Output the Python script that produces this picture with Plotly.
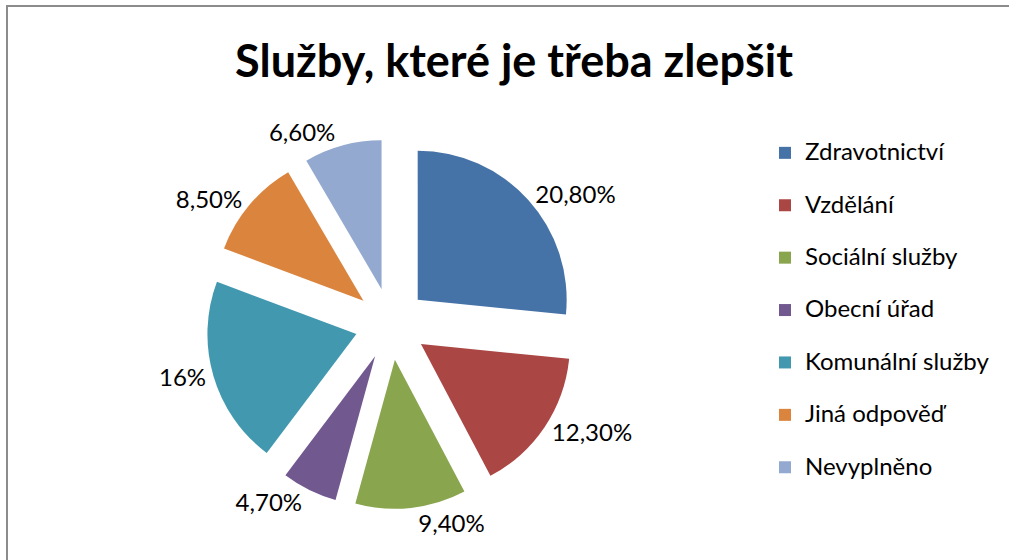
import plotly.graph_objects as go

# ---- data ----
categories = ["Zdravotnictví", "Vzdělání", "Sociální služby", "Obecní úřad",
              "Komunální služby", "Jiná odpověď", "Nevyplněno"]
values = [20.80, 12.30, 9.40, 4.70, 16, 8.50, 6.60]
colors = ["#4572A7", "#AA4643", "#89A54E", "#71588F", "#4198AF", "#DB843D", "#93A9CF"]
title_text = "Služby, které je třeba zlepšit"


def fmt(v):
    if float(v).is_integer():
        return f"{int(v)}%"
    return f"{v:.2f}".replace(".", ",") + "%"


label_texts = [fmt(v) for v in values]
# legend entries: larger text plus an extra blank line for the wide legend spacing
legend_labels = ["<span style='font-size:24px'>" + c + "</span><br>\u00a0" for c in categories]

W, H = 1009, 560
FONT = "Lato"

fig = go.Figure(go.Pie(
    labels=legend_labels,
    values=values,
    text=label_texts,
    customdata=categories,
    textinfo="text",
    textposition="outside",
    texttemplate="%{text}",
    hovertemplate="%{customdata}: %{text}<extra></extra>",
    sort=False,
    direction="clockwise",
    rotation=0,
    pull=[0.242] * len(values),
    marker=dict(colors=colors, line=dict(width=0)),
    outsidetextfont=dict(family=FONT, size=24, color="#000000"),
    domain=dict(x=[206 / W, 576 / W], y=[1 - 509 / H, 1 - 139 / H]),
    showlegend=True,
))

fig.update_layout(
    width=W, height=H,
    margin=dict(l=0, r=0, t=0, b=0, pad=0, autoexpand=False),
    paper_bgcolor="white",
    plot_bgcolor="white",
    font=dict(family=FONT, color="#000000"),
    title=dict(text="<b>" + title_text + "</b>", x=514 / W, xanchor="center",
               xref="container", yref="container", y=1 - 61 / H, yanchor="middle",
               font=dict(family=FONT, size=45, color="#000000")),
    legend=dict(x=765 / W, xanchor="left", y=1 - 134 / H, yanchor="top",
                font=dict(family=FONT, size=19, color="#000000"),
                valign="top", bgcolor="rgba(0,0,0,0)", itemclick=False),
    shapes=[
        dict(type="line", xref="paper", yref="paper", x0=6 / W, x1=1.0,
             y0=1 - 6 / H, y1=1 - 6 / H, line=dict(color="#8c8c8c", width=2)),
        dict(type="line", xref="paper", yref="paper", x0=7 / W, x1=7 / W,
             y0=0, y1=1 - 6 / H, line=dict(color="#8c8c8c", width=2)),
    ],
)

fig.write_html(
    "out.html",
    config={"displayModeBar": False},
    post_script="document.body.style.margin='0';document.body.style.overflow='hidden';",
)
